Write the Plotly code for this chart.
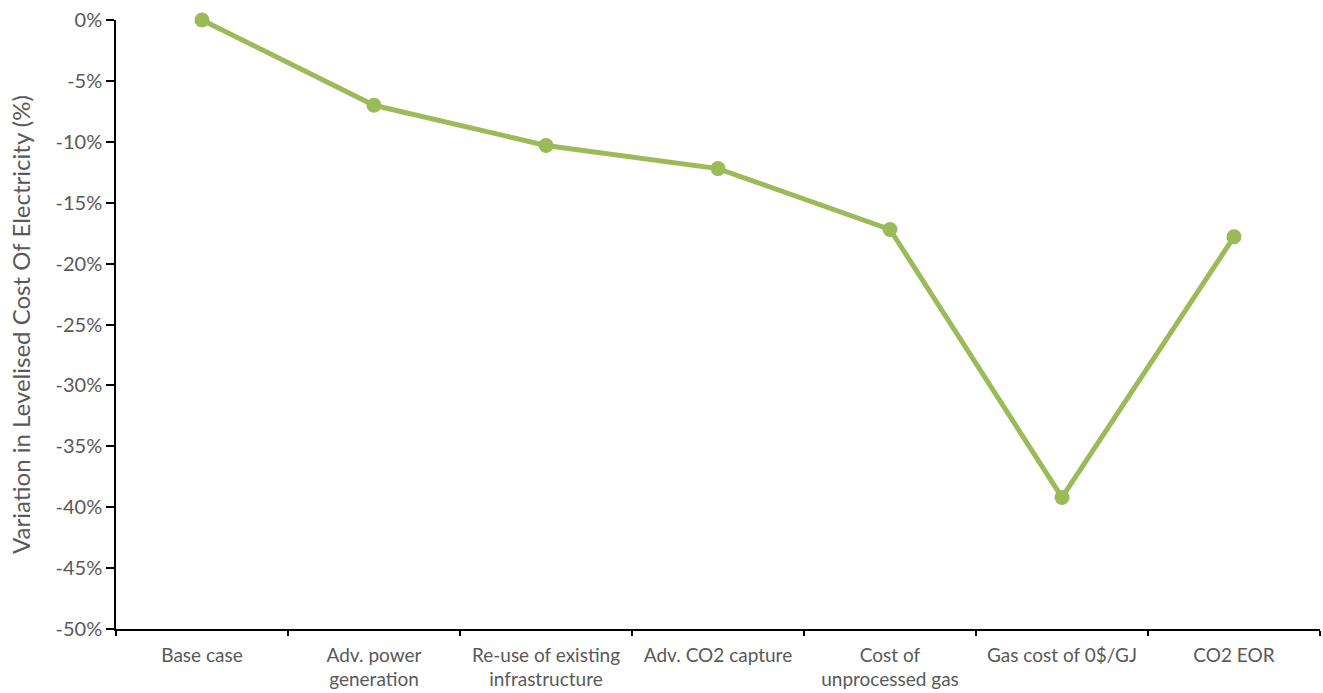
import plotly.graph_objects as go

# Scenarios and their change in levelised cost of electricity (%)
categories = [
    "Base case",
    "Adv. power<br>generation",
    "Re-use of existing<br>infrastructure",
    "Adv. CO2 capture",
    "Cost of<br>unprocessed gas",
    "Gas cost of 0$/GJ",
    "CO2 EOR",
]
lcoe_variation = [0.0, -7.0, -10.3, -12.2, -17.2, -39.2, -17.8]

y_ticks = [0, -5, -10, -15, -20, -25, -30, -35, -40, -45, -50]
y_tick_labels = ["0%", "-5%", "-10%", "-15%", "-20%", "-25%", "-30%", "-35%", "-40%", "-45%", "-50%"]

green = "#9BBB59"
grey = "#595959"
font_family = "Lato, 'Open Sans', sans-serif"

fig = go.Figure(
    go.Scatter(
        x=categories,
        y=lcoe_variation,
        mode="lines+markers",
        line=dict(color=green, width=5),
        marker=dict(color=green, size=15),
        showlegend=False,
        cliponaxis=False,
    )
)

fig.update_layout(
    width=1323,
    height=693,
    margin=dict(l=116, r=3, t=20, b=64, autoexpand=False),
    paper_bgcolor="white",
    plot_bgcolor="white",
    font=dict(family=font_family, color=grey, size=16),
)

fig.update_xaxes(
    type="category",
    tickson="boundaries",
    range=[-0.5, 6.5],
    showline=True,
    linecolor="black",
    linewidth=1.5,
    ticks="outside",
    ticklen=5,
    tickcolor="black",
    tickwidth=1.5,
    ticklabelstandoff=8,
    showgrid=False,
    zeroline=False,
    automargin=False,
    tickfont=dict(size=19, color=grey),
)

fig.update_yaxes(
    range=[-50, 0],
    tickvals=y_ticks,
    ticktext=y_tick_labels,
    showline=True,
    linecolor="black",
    linewidth=1.5,
    ticks="outside",
    ticklen=8,
    tickcolor="black",
    tickwidth=1.5,
    showgrid=False,
    zeroline=False,
    automargin=False,
    tickfont=dict(size=20, color=grey),
    title=dict(
        text="Variation in Levelised Cost Of Electricity (%)",
        font=dict(size=24, color=grey),
        standoff=18,
    ),
)

fig.write_html("out.html")
